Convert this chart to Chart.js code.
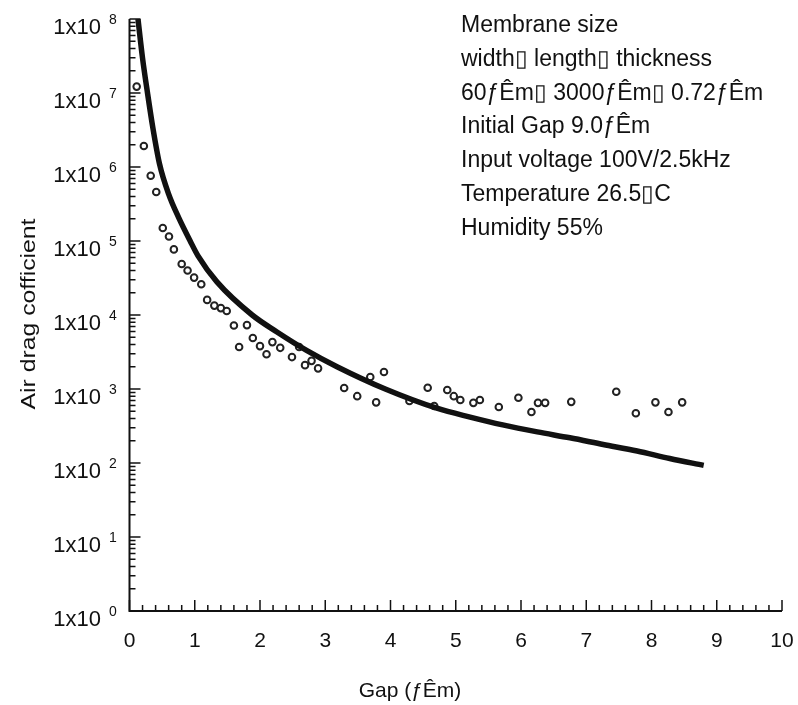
<!DOCTYPE html>
<html>
<head>
<meta charset="utf-8">
<script src="https://cdn.jsdelivr.net/npm/chart.js@4.4.1/dist/chart.umd.min.js"></script>
<style>
html, body { margin: 0; padding: 0; background: #fff; }
</style>
</head>
<body>
<canvas id="chart" width="798" height="705"></canvas>
<script>
// theory curve (gap in um, drag coefficient)
const curveGap = [0.13, 0.2, 0.276, 0.36, 0.46, 0.6, 0.75, 0.93, 1.05, 1.34, 1.88, 2.26, 2.72, 3.18, 3.92, 4.71, 5.22, 5.72, 6.25, 6.75, 7.26, 7.78, 8.28, 8.8]
const curveDrag = [1e8, 2.95e7, 1e7, 3.3e6, 1.1e6, 4.3e5, 2.1e5, 1e5, 6.3e4, 2.8e4, 1e4, 5.9e3, 3.3e3, 2.0e3, 1e3, 550, 417, 327, 263, 219, 178, 145, 115, 93]

// measured points
const measGap = [0.11, 0.22, 0.325, 0.41, 0.51, 0.605, 0.68, 0.8, 0.89, 0.99, 1.1, 1.19, 1.3, 1.4, 1.49, 1.6, 1.68, 1.8, 1.89, 2.0, 2.1, 2.19, 2.31, 2.49, 2.6, 2.69, 2.79, 2.89, 3.29, 3.49, 3.69, 3.78, 3.9, 4.29, 4.57, 4.67, 4.87, 4.97, 5.07, 5.27, 5.37, 5.66, 5.96, 6.16, 6.26, 6.37, 6.77, 7.46, 7.76, 8.06, 8.26, 8.47]
const measDrag = [1.22e7, 1.92e6, 7.6e5, 4.6e5, 1.5e5, 1.15e5, 7.7e4, 4.9e4, 4.0e4, 3.2e4, 2.6e4, 1.6e4, 1.34e4, 1.24e4, 1.13e4, 7.2e3, 3.7e3, 7.3e3, 4.9e3, 3.8e3, 2.95e3, 4.3e3, 3.6e3, 2.7e3, 3.7e3, 2.1e3, 2.4e3, 1.9e3, 1.03e3, 800, 1.45e3, 660, 1.7e3, 690, 1.04e3, 590, 970, 800, 710, 650, 710, 570, 760, 490, 650, 650, 670, 920, 470, 660, 490, 660]

const xTicks = [0, 1, 2, 3, 4, 5, 6, 7, 8, 9, 10]
const yExponents = [0, 1, 2, 3, 4, 5, 6, 7, 8]
const yTickBase = '1x10'

const xTitle = 'Gap (\u0192\u00CAm)'
const yTitle = 'Air drag cofficient'
const noteLines = [
	'Membrane size',
	'width\u25AF length\u25AF thickness',
	'60\u0192\u00CAm\u25AF 3000\u0192\u00CAm\u25AF 0.72\u0192\u00CAm',
	'Initial Gap 9.0\u0192\u00CAm',
	'Input voltage 100V/2.5kHz',
	'Temperature 26.5\u25AFC',
	'Humidity 55%',
]

const FONT = '"Liberation Sans", Arial, sans-serif'
const INK = '#111'

const axesPlugin = {
	id: 'axesPlugin',
	afterDatasetsDraw(chart) {
		const ctx = chart.ctx
		const xs = chart.scales.x
		const ys = chart.scales.y
		const left = xs.getPixelForValue(0)
		const right = xs.getPixelForValue(10)
		const top = ys.getPixelForValue(1e8)
		const bottom = ys.getPixelForValue(1)

		ctx.save()
		ctx.strokeStyle = INK
		ctx.lineWidth = 2
		ctx.beginPath()
		ctx.moveTo(left, top)
		ctx.lineTo(left, bottom)
		ctx.lineTo(right, bottom)
		ctx.stroke()

		// inward ticks
		ctx.lineWidth = 1.5
		ctx.beginPath()
		for (let i = 0; i <= 50; i++) {
			const px = xs.getPixelForValue(i / 5)
			const len = i % 5 === 0 ? 11 : 6
			ctx.moveTo(px, bottom)
			ctx.lineTo(px, bottom - len)
		}
		yExponents.forEach(e => {
			const mults = e === 8 ? [1] : [1, 2, 3, 4, 5, 6, 7, 8, 9]
			mults.forEach(m => {
				const py = ys.getPixelForValue(m * Math.pow(10, e))
				const len = m === 1 ? 11 : 6
				ctx.moveTo(left, py)
				ctx.lineTo(left + len, py)
			})
		})
		ctx.stroke()

		// y tick labels 1x10^n
		ctx.fillStyle = INK
		yExponents.forEach(e => {
			const py = ys.getPixelForValue(Math.pow(10, e))
			ctx.font = '22px ' + FONT
			ctx.textAlign = 'right'
			ctx.textBaseline = 'alphabetic'
			ctx.fillText(yTickBase, 101, py + 15)
			ctx.font = '14px ' + FONT
			ctx.textAlign = 'left'
			ctx.fillText(String(e), 109, py + 5)
		})

		// axis titles
		ctx.font = '21px ' + FONT
		ctx.textAlign = 'center'
		ctx.textBaseline = 'alphabetic'
		ctx.fillText(xTitle, 410, 697)

		ctx.save()
		ctx.translate(35, 314)
		ctx.rotate(-Math.PI / 2)
		ctx.scale(1.18, 1)
		ctx.fillText(yTitle, 0, 0)
		ctx.restore()

		// note block
		ctx.font = '23px ' + FONT
		ctx.textAlign = 'left'
		noteLines.forEach((line, i) => {
			ctx.fillText(line, 461, 31.7 + i * 33.9)
		})
		ctx.restore()
	},
}

new Chart(document.getElementById('chart'), {
	type: 'scatter',
	data: {
		datasets: [
			{
				label: 'theory',
				data: curveGap.map((g, i) => ({ x: g, y: curveDrag[i] })),
				showLine: true,
				borderColor: INK,
				borderWidth: 5.5,
				pointRadius: 0,
				cubicInterpolationMode: 'monotone',
			},
			{
				label: 'measured',
				data: measGap.map((g, i) => ({ x: g, y: measDrag[i] })),
				showLine: false,
				pointRadius: 3.3,
				pointBorderWidth: 2,
				pointBorderColor: '#222',
				pointBackgroundColor: '#fff',
			},
		],
	},
	options: {
		responsive: false,
		animation: false,
		layout: {
			padding: { top: 19, right: 0, bottom: 0, left: 0 },
		},
		plugins: {
			legend: { display: false },
			tooltip: { enabled: false },
		},
		scales: {
			x: {
				type: 'linear',
				min: 0,
				max: 10,
				afterBuildTicks: scale => {
					scale.ticks = xTicks.map(v => ({ value: v }))
				},
				afterFit: scale => {
					scale.height = 94
					scale.paddingLeft = 0
					scale.paddingRight = 16
				},
				grid: { display: false, drawTicks: false },
				border: { display: false },
				ticks: {
					padding: 18,
					color: INK,
					maxRotation: 0,
					autoSkip: false,
					font: { family: FONT, size: 21 },
				},
			},
			y: {
				type: 'logarithmic',
				min: 1,
				max: 1e8,
				afterFit: scale => {
					scale.width = 129.5
					scale.paddingTop = 0
					scale.paddingBottom = 0
				},
				grid: { display: false, drawTicks: false },
				border: { display: false },
				ticks: { display: false },
			},
		},
	},
	plugins: [axesPlugin],
})
</script>
</body>
</html>
